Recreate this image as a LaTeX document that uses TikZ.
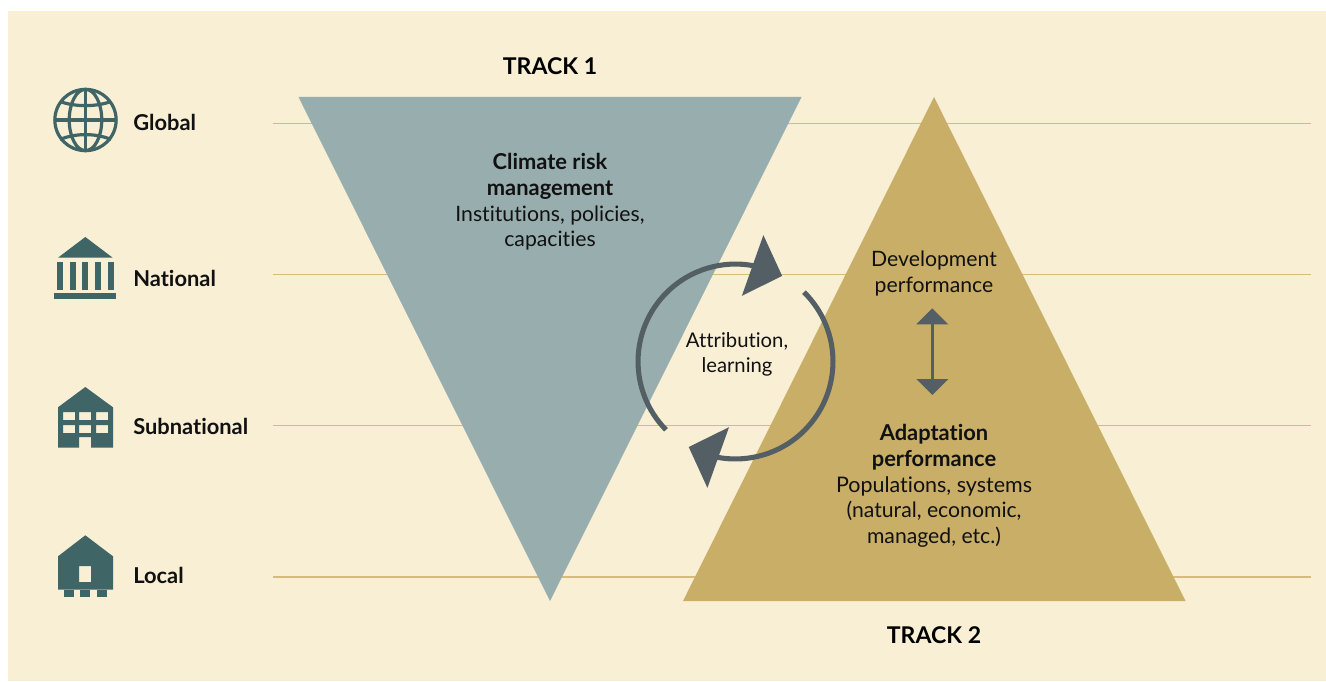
\documentclass[tikz,border=0pt]{standalone}
\usepackage{fontspec}
\setmainfont{Lato}[Ligatures=NoCommon]
\usetikzlibrary{arrows.meta,bending}
\definecolor{cream}{HTML}{F8EFD5}
\definecolor{slate}{HTML}{98ADAE}
\definecolor{gold}{HTML}{C8AE66}
\definecolor{rule}{HTML}{D6BC78}
\definecolor{icon}{HTML}{3F6566}
\definecolor{arrowc}{HTML}{535F64}
\definecolor{ink}{HTML}{111111}
\newcommand{\bigbf}[1]{{\fontsize{16.4pt}{19.2pt}\selectfont\bfseries #1}}
\tikzset{
  lbl/.style={font=\fontsize{15.9pt}{19.2pt}\selectfont,text=ink,align=center,inner sep=0pt},
  lev/.style={font=\fontsize{16.4pt}{19pt}\selectfont\bfseries,text=ink,anchor=west,inner sep=0pt},
  trk/.style={font=\fontsize{17.3pt}{20pt}\selectfont\bfseries,text=black,inner sep=0pt},
  levelrule/.style={draw=rule,line width=1pt},
  ico/.style={fill=icon,draw=none,even odd rule},
  globeline/.style={draw=icon,line width=2.4pt},
  cyc/.style={draw=arrowc,line width=3.8pt,-{Triangle[length=23.5pt,width=47.5pt,flex=1]}},
  dbl/.style={draw=arrowc,line width=2pt,{Triangle[length=12pt,width=23.5pt]}-{Triangle[length=12pt,width=23.5pt]}},
}
\begin{document}
\begin{tikzpicture}[x=0.75pt,y=-0.75pt]
\useasboundingbox (0,0) rectangle (1326,681);
\fill[white] (0,0) rectangle (1326,681);
\fill[cream] (8,11) rectangle (1326,681);
% rules
\foreach \yy/\nm in {123.5/a,274.5/b,425.5/c,577/d}{
  \coordinate (rule\nm L) at (273,\yy);
  \coordinate (rule\nm R) at (1311,\yy);
  \draw[levelrule] (rule\nm L) -- (rule\nm R);
}
% triangles
\fill[slate] (298.5,97) -- (801.5,97) -- (550,601) -- cycle;
\fill[gold] (934,97) -- (683,601) -- (1185.5,601) -- cycle;
% globe
\coordinate (gc) at (85.5,120);
\draw[globeline] (gc) circle[radius=23pt];
\draw[globeline] (gc) ellipse[x radius=12.2pt,y radius=23pt];
\draw[globeline] (85.5,89.5) -- (85.5,150.5);
\draw[globeline] (54.5,120) -- (116.5,120);
\draw[globeline] (60,101.5) .. controls (75,107) and (96,107) .. (111,101.5);
\draw[globeline] (60,139.5) .. controls (75,133) and (96,133) .. (111,139.5);
% temple
\fill[ico] (58,257.7) -- (85.3,237) -- (112.7,257.7) -- cycle;
\foreach \xx in {57,70,82,95,108}{\fill[ico] (\xx,262) rectangle ++(6,28);}
\fill[ico] (54,293) rectangle (116,299);
% office
\fill[ico] (58,447.7) -- (58,407.3) -- (85.3,387) -- (113,407.3) -- (113,447.7) -- (91,447.7) -- (91,437) -- (79,437) -- (79,447.7) -- cycle
  (63,412) rectangle (75,420) (79,412) rectangle (91,420) (96,412) rectangle (108,420)
  (63,425) rectangle (75,433) (79,425) rectangle (91,433) (96,425) rectangle (108,433);
% house
\fill[ico] (58,589.7) -- (58,556.3) -- (85.3,535.3) -- (113,556.3) -- (113,589.7) -- cycle
  (79,566) rectangle (91,582);
\foreach \xx in {64,80,97}{\fill[ico] (\xx,589.7) rectangle ++(10,7.3);}
% labels
\node[lev] (global) at (133,122) {Global};
\node[lev] (national) at (133,278) {National};
\node[lev] (subnational) at (133,426) {Subnational};
\node[lev] (local) at (133,575) {Local};
\node[trk] (track1) at (550,66.5) {TRACK 1};
\node[trk] (track2) at (934,635.5) {TRACK 2};
\node[lbl] (crm) at (550,202) {\bigbf{Climate risk}\\\bigbf{management}\\Institutions, policies,\\capacities};
\node[lbl] (dev) at (934,273.5) {Development\\performance};
\node[lbl] (adapt) at (934,486) {\bigbf{Adaptation}\\\bigbf{performance}\\{\fontsize{16.1pt}{19.2pt}\selectfont Populations, systems}\\(natural, economic,\\managed, etc.)};
\node[lbl,font=\fontsize{15.2pt}{19.2pt}\selectfont] (attr) at (737,354.5) {Attribution,\\learning};
% cycle
\coordinate (cc) at (735.5,361.5);
\draw[cyc] (cc) ++(224.5:73.1pt) arc[start angle=224.5,end angle=61.4,radius=73.1pt];
\draw[cyc] (cc) ++(45.4:73.1pt) arc[start angle=45.4,end angle=-118.7,radius=73.1pt];
% double arrow
\coordinate (dt) at (932.3,308.3);
\coordinate (db) at (932.3,395);
\draw[dbl] (dt) -- (db);
\end{tikzpicture}
\end{document}
